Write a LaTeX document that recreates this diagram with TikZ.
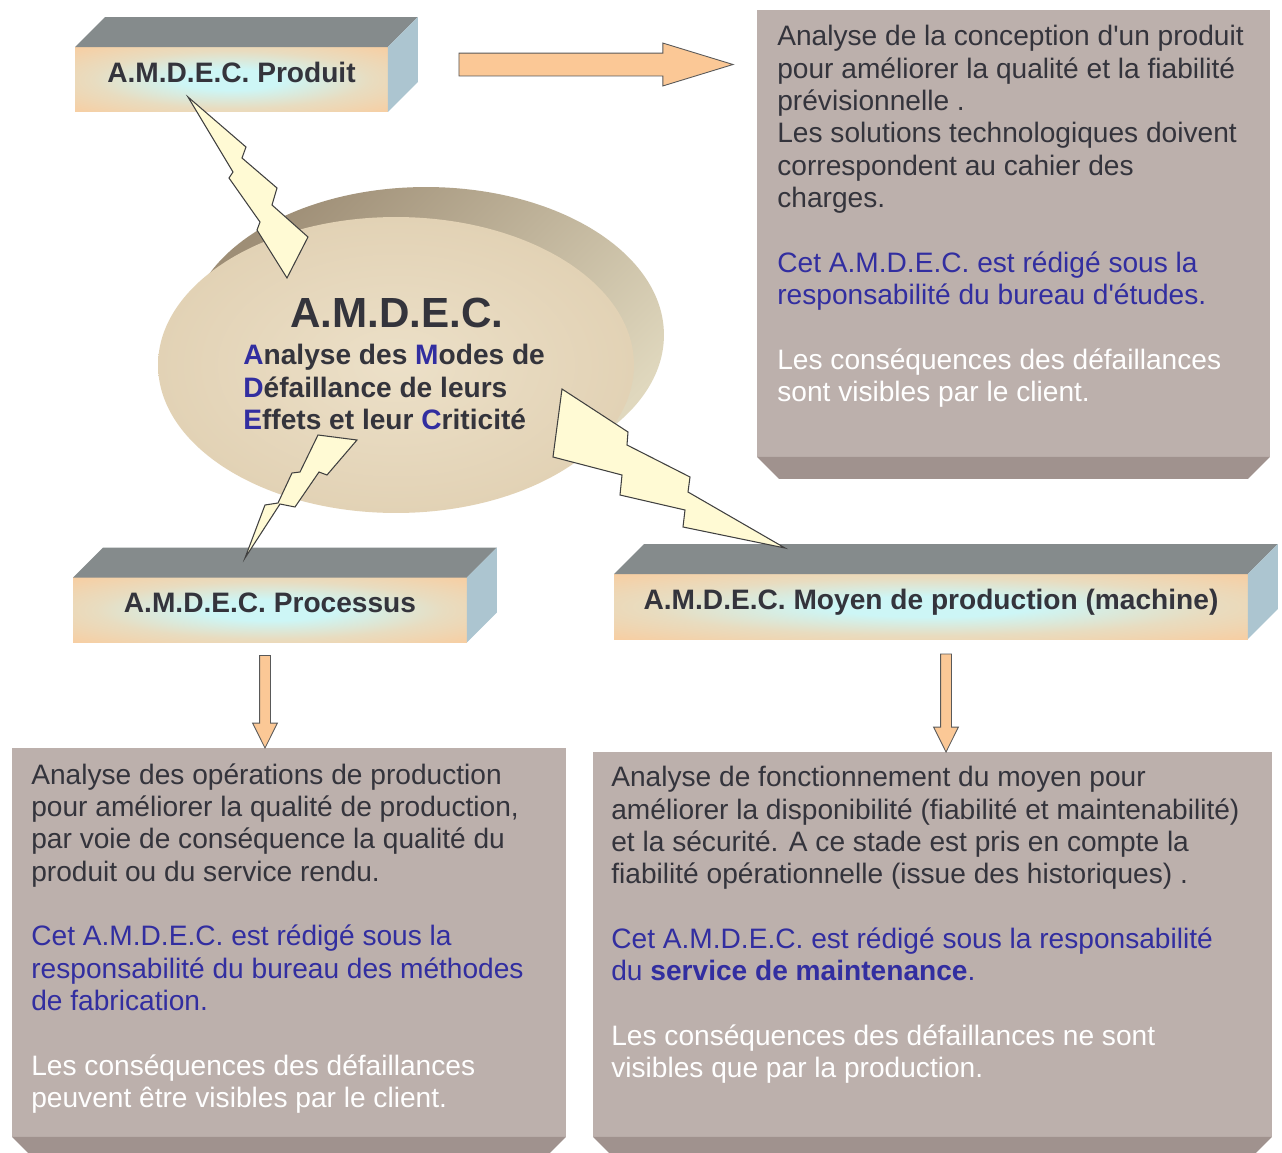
\documentclass[tikz,border=0pt]{standalone}
\usepackage{fontspec}
\setmainfont{Liberation Sans}[Ligatures=TeXOff]
\usetikzlibrary{shapes.geometric,shapes.arrows,calc,positioning}

\definecolor{peach}{RGB}{250,203,156}
\definecolor{glowc}{RGB}{205,246,246}
\definecolor{topc}{RGB}{133,139,140}
\definecolor{sidec}{RGB}{172,197,208}
\definecolor{boxc}{RGB}{188,176,172}
\definecolor{bevelc}{RGB}{160,146,142}
\definecolor{inkc}{RGB}{52,52,60}
\definecolor{bluec}{RGB}{50,46,160}
\definecolor{boltc}{RGB}{255,250,212}
\definecolor{sandl}{RGB}{236,224,200}
\definecolor{sandd}{RGB}{226,210,181}
\definecolor{rimd}{RGB}{158,142,118}
\definecolor{riml}{RGB}{224,216,190}
\definecolor{arrowc}{RGB}{251,200,150}

\pgfdeclareradialshading{glow}{\pgfpoint{0bp}{0bp}}{%
  color(0bp)=(glowc); color(8bp)=(glowc); color(22bp)=(glowc!40!peach); color(38bp)=(peach); color(50bp)=(peach)}

\newcommand\bl[1]{\textcolor{bluec}{#1}}
\newcommand\wh[1]{\textcolor{white}{#1}}
\newcommand\relief[1]{%
  \fill[topc] (#1.north west) -- ++(30,-30) -- ($(#1.north east)+(30,-30)$) -- (#1.north east) -- cycle;
  \fill[sidec] (#1.north east) -- ++(30,-30) -- ($(#1.south east)+(30,-30)$) -- (#1.south east) -- cycle;}
\newcommand\bevel[1]{%
  \fill[bevelc] (#1.south west) -- (#1.south east) -- ++(-22,22) -- ($(#1.south west)+(22,22)$) -- cycle;}

\tikzset{
  titlebox/.style={shade, shading=glow, inner xsep=0pt, inner ysep=0pt, outer sep=0pt,
    text height=0.7cm, text depth=0.6cm, text=inkc, font=\fontsize{16}{19}\selectfont\bfseries},
  textbox/.style={fill=boxc, inner sep=0pt, outer sep=0pt, anchor=north west},
  boxtext/.style={anchor=north west, inner sep=0pt, align=left, text=inkc,
    font=\fontsize{16}{18.4}\selectfont},
  bolt/.style={fill=boltc, draw=black!75, line width=0.6pt, line join=miter},
  blockarr/.style={single arrow, draw=black!65, fill=arrowc, line width=0.5pt,
    outer sep=0pt, inner xsep=0pt, sloped, allow upside down, pos=0, anchor=tail},
}

\begin{document}
\begin{tikzpicture}[x=0.02cm, y=-0.02cm]

\path[use as bounding box, fill=white] (0,0) rectangle (1282,1153);

\node[textbox, minimum width=10.26cm, minimum height=8.94cm] (t1) at (757,10) {};
\node[textbox, minimum width=11.08cm, minimum height=7.78cm] (t2) at (12,748) {};
\node[textbox, minimum width=13.58cm, minimum height=7.7cm] (t3) at (593,752) {};
\bevel{t1}
\bevel{t2}
\bevel{t3}

\node[titlebox, minimum width=6.26cm] (prod) at (231.5,79.5) {A.M.D.E.C. Produit};
\node[titlebox, minimum width=7.88cm] (proc) at (270,610) {A.M.D.E.C. Processus};
\node[titlebox, minimum width=12.68cm] (moyen) at (931,606.5) {A.M.D.E.C. Moyen de production (machine)};
\relief{prod}
\relief{proc}
\relief{moyen}

\node[ellipse, minimum width=9.52cm, minimum height=5.92cm, top color=rimd, bottom color=riml, shading angle=45] (rim) at (426,335) {};
\node[ellipse, minimum width=9.52cm, minimum height=5.92cm, inner color=sandl, outer color=sandd] (amdec) at (396,365) {};

\node[font=\fontsize{24}{28}\selectfont\bfseries, text=inkc, inner sep=0pt] (sigle) at (397,313) {A.M.D.E.C.};
\node[anchor=north west, align=left, inner sep=0pt, text=inkc, font=\fontsize{16}{18.4}\selectfont\bfseries] (defn) at (243,344)
  {\bl{A}nalyse des \bl{M}odes de\\ \bl{D}éfaillance de leurs\\ \bl{E}ffets et leur \bl{C}riticité};

\draw[bolt] (188,97) -- (246,147) -- (242,158) -- (277,188) -- (272,205) -- (308,237) -- (287,278)
  -- (257,230) -- (260,222) -- (229,178) -- (233,172) -- cycle;
\draw[bolt] (318,435) -- (357,440) -- (327,475) -- (319,472) -- (295,507) -- (280,504) -- (245,558)
  -- (265,505) -- (278,503) -- (292,473) -- (300,472) -- cycle;
\draw[bolt] (562,389) -- (628,432) -- (627,445) -- (690,477) -- (688,492) -- (785,548)
  -- (683,527) -- (685,510) -- (620,495) -- (622,475) -- (553,457) -- cycle;

\coordinate (a1s) at ($(prod.east)+(71,-15)$);
\coordinate (a1e) at ($(t1.west |- a1s)+(-24,0)$);
\coordinate (a2s) at ($(proc.south)+(-5,13)$);
\coordinate (a2e) at (a2s |- t2.north);
\coordinate (a3s) at ($(moyen.south)+(15,15)$);
\coordinate (a3e) at (a3s |- t3.north);

\path let \p1=(a1s), \p2=(a1e), \n1={veclen(\x2-\x1,\y2-\y1)} in (a1s) -- node[blockarr, minimum height=\n1,
  inner ysep=0.22cm, single arrow head extend=0.2cm, single arrow tip angle=34] (ar1) {} (a1e);
\path let \p1=(a2s), \p2=(a2e), \n1={veclen(\x2-\x1,\y2-\y1)} in (a2s) -- node[blockarr, minimum height=\n1,
  inner ysep=0.1cm, single arrow head extend=0.14cm, single arrow tip angle=53] (ar2) {} (a2e);
\path let \p1=(a3s), \p2=(a3e), \n1={veclen(\x2-\x1,\y2-\y1)} in (a3s) -- node[blockarr, minimum height=\n1,
  inner ysep=0.1cm, single arrow head extend=0.14cm, single arrow tip angle=53] (ar3) {} (a3e);

\node[boxtext] (t1txt) at ($(t1.north west)+(20,15)$) {Analyse de la conception d'un produit\\
  pour améliorer la qualité et la fiabilité\\
  prévisionnelle .\\
  Les solutions technologiques doivent\\
  correspondent au cahier des\\
  charges.\\[18.4pt]
  \bl{Cet A.M.D.E.C. est rédigé sous la}\\
  \bl{responsabilité du bureau d'études.}\\[18.4pt]
  \wh{Les conséquences des défaillances}\\
  \wh{sont visibles par le client.}};

\node[boxtext] (t2txt) at ($(t2.north west)+(19,15)$) {Analyse des opérations de production\\
  pour améliorer la qualité de production,\\
  par voie de conséquence la qualité du\\
  produit ou du service rendu.\\[18.4pt]
  \bl{Cet A.M.D.E.C. est rédigé sous la}\\
  \bl{responsabilité du bureau des méthodes}\\
  \bl{de fabrication.}\\[18.4pt]
  \wh{Les conséquences des défaillances}\\
  \wh{peuvent être visibles par le client.}};

\node[boxtext] (t3txt) at ($(t3.north west)+(18,14)$) {Analyse de fonctionnement du moyen pour\\
  améliorer la disponibilité (fiabilité et maintenabilité)\\
  et la sécurité. A ce stade est pris en compte la\\
  fiabilité opérationnelle (issue des historiques) .\\[18.4pt]
  \bl{Cet A.M.D.E.C. est rédigé sous la responsabilité}\\
  \bl{du \textbf{service de maintenance}.}\\[18.4pt]
  \wh{Les conséquences des défaillances ne sont}\\
  \wh{visibles que par la production.}};

\end{tikzpicture}
\end{document}
